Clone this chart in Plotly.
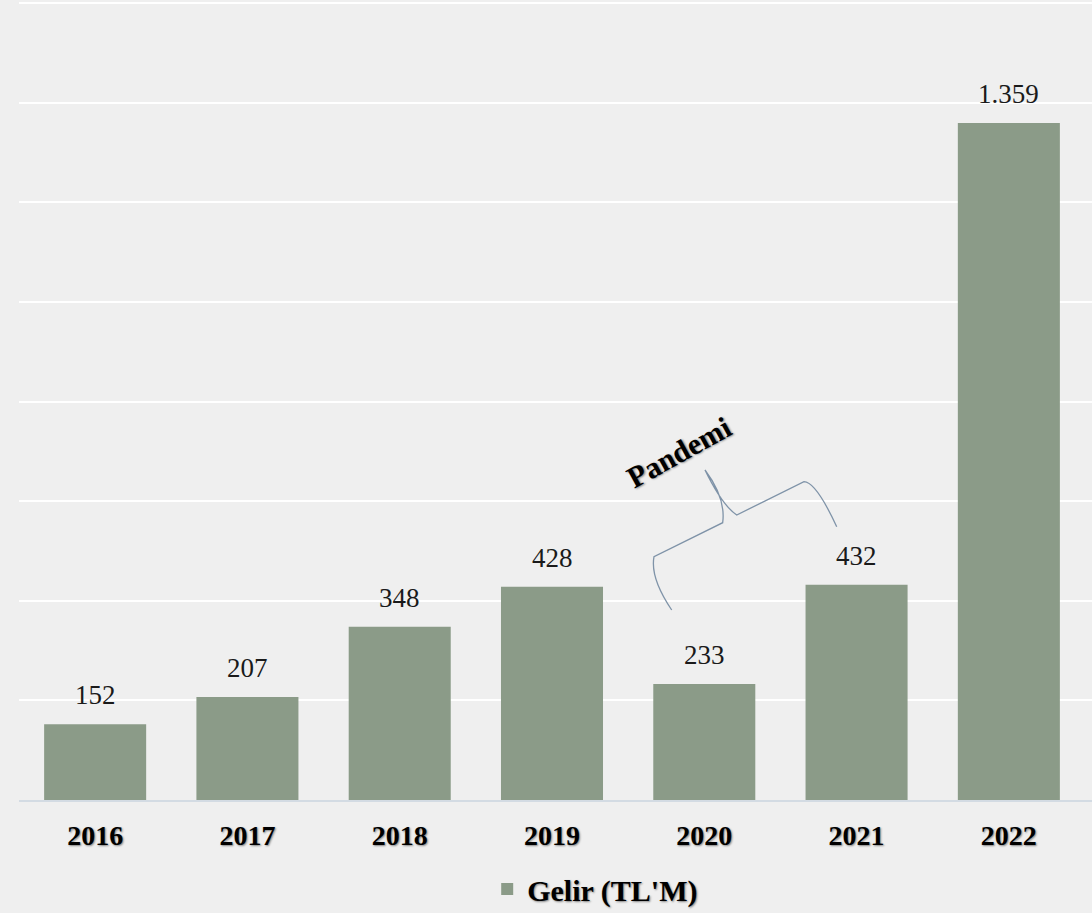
import plotly.graph_objects as go

years = ["2016", "2017", "2018", "2019", "2020", "2021", "2022"]
gelir = [152, 207, 348, 428, 233, 432, 1359]
series_name = "Gelir (TL'M)"
note_text = "Pandemi"

FONT = "Liberation Serif"
SHADOW = "1px 1px 2px rgba(0,0,0,0.45)"

fig = go.Figure()
fig.add_trace(go.Bar(
    x=years, y=gelir, name=series_name,
    marker=dict(color="#8B9B88", line=dict(width=0)),
    showlegend=True,
))

for i, v in enumerate(gelir):
    fig.add_annotation(
        x=i, y=v, text=f"{v:,}".replace(",", "."),
        showarrow=False, yanchor="bottom", yshift=12,
        font=dict(family=FONT, size=27, color="#1a1a1a"),
    )

# brace (decorative) in paper coordinates converted from pixel positions
L, R, T, B = 19, 1092, 1, 800
def px(x, y):
    return f"{(x - L) / (R - L):.5f},{(B - y) / (B - T):.5f}"

path = (
    "M " + px(671.7, 610)
    + " Q " + px(650, 578) + " " + px(654, 556.7)
    + " L " + px(722.7, 522.7)
    + " Q " + px(726, 498) + " " + px(705, 470)
    + " Q " + px(722, 505) + " " + px(736.7, 515)
    + " L " + px(804, 481.7)
    + " Q " + px(816, 482) + " " + px(836.7, 526.7)
)
fig.add_shape(type="path", path=path, xref="paper", yref="paper",
              line=dict(color="#7F93A8", width=1.3))

fig.add_annotation(
    x=(678 - L) / (R - L), y=(B - 452) / (B - T), xref="paper", yref="paper",
    text=f"<b>{note_text}</b>", showarrow=False, textangle=-29,
    font=dict(family=FONT, size=30, color="#000000", shadow=SHADOW),
)

fig.update_layout(
    width=1092, height=913,
    margin=dict(l=19, r=0, t=1, b=113, autoexpand=False),
    paper_bgcolor="#EFEFEF", plot_bgcolor="#EFEFEF",
    bargap=0.33,
    showlegend=True,
    legend=dict(
        orientation="h", x=0.537, xanchor="center", y=-0.079, yanchor="top",
        font=dict(family=FONT, size=30, color="#000000", weight="bold", shadow=SHADOW),
        bgcolor="rgba(0,0,0,0)",
    ),
    xaxis=dict(
        type="category", range=[-0.5, 6.546],
        showgrid=False, showline=True, linecolor="#D3DBE3", linewidth=2,
        ticks="", ticklabelstandoff=9,
        tickfont=dict(family=FONT, size=28, color="#000000", weight="bold", shadow=SHADOW),
    ),
    yaxis=dict(
        range=[0, 1604], tick0=0, dtick=200, showgrid=True, gridcolor="#FFFFFF", gridwidth=2,
        zeroline=False, showticklabels=False, ticks="",
    ),
)

fig.write_html("out.html", config={"displayModeBar": False},
               post_script="document.body.style.margin='0px';document.body.style.background='#EFEFEF';")
